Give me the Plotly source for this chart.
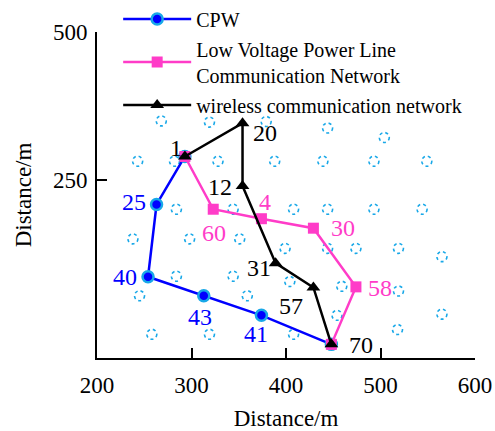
import plotly.graph_objects as go

# ---- data (metres) ----
cpw_nodes = ["1", "25", "40", "43", "41", "70"]
cpw_x = [293, 263, 254, 313, 374, 448]
cpw_y = [290, 209, 87, 55, 22, -27]

plc_nodes = ["1", "60", "4", "30", "58", "70"]
plc_x = [293, 323, 374, 429, 474, 448]
plc_y = [290, 201, 185, 169, 70, -27]

wl_nodes = ["1", "20", "12", "31", "57", "70"]
wl_x = [293, 354, 354, 389, 429, 448]
wl_y = [290, 346, 240, 110, 69, -27]

# other (unselected) nodes
other_x = [268, 319, 379, 444, 504,
           243, 282, 328, 388, 439, 493, 549,
           284, 344, 408, 444, 493, 544,
           238, 298, 351,
           399, 444, 474, 519, 565,
           284, 344, 404, 459, 519,
           245, 359, 454, 565,
           258, 319, 408, 518]
other_y = [350, 348, 349, 338, 322,
           282, 282, 282, 282, 282, 282, 282,
           201, 201, 201, 201, 201, 201,
           151, 151, 151,
           135, 135, 135, 135, 121,
           88, 88, 79, 71, 63,
           55, 55, 22, 24,
           -10, -10, -10, -2]

x_ticks = [200, 300, 400, 500, 600]
y_ticks = [250, 500]

BLUE = "#0000FF"
CYAN = "#18A8E8"
PINK = "#FF3CC8"
BLACK = "#000000"
FONT = "Liberation Serif"

fig = go.Figure()

fig.add_trace(go.Scatter(
    x=cpw_x, y=cpw_y, mode="lines+markers", name="CPW",
    line=dict(color=BLUE, width=2.5),
    marker=dict(symbol="circle", size=11, color=BLUE, line=dict(color=CYAN, width=2.5)),
    legendgroup="a"))
fig.add_trace(go.Scatter(
    x=plc_x, y=plc_y, mode="lines+markers",
    name="Low Voltage Power Line<br>Communication Network",
    line=dict(color=PINK, width=2.5),
    marker=dict(symbol="square", size=11, color=PINK),
    legendgroup="b"))
fig.add_trace(go.Scatter(
    x=wl_x, y=wl_y, mode="lines+markers", name="wireless communication network",
    line=dict(color=BLACK, width=2.5),
    marker=dict(symbol="triangle-up", size=12, color=BLACK),
    legendgroup="c"))

# dashed circles for other nodes
shapes = []
for xv, yv in zip(other_x, other_y):
    shapes.append(dict(
        type="circle", xref="x", yref="y",
        xsizemode="pixel", ysizemode="pixel",
        xanchor=xv, yanchor=yv, x0=-5, x1=5, y0=-5, y1=5,
        line=dict(color=CYAN, width=1.6, dash="dot"),
        layer="below"))

# node labels (pixel offsets)
label_specs = [
    (cpw_nodes, cpw_x, cpw_y, BLUE, {"25": (-23, 2), "40": (-23, 0), "43": (-4, -21), "41": (-5, -19)}),
    (plc_nodes, plc_x, plc_y, PINK, {"60": (1, -24), "4": (4, 17), "30": (30, 0), "58": (24, -1)}),
    (wl_nodes, wl_x, wl_y, BLACK, {"1": (-9, 8), "20": (22, -10), "12": (-23, -1),
                                   "31": (-17, -5), "57": (-22, -19), "70": (30, -1)}),
]
annotations = []
for names, xs, ys, col, offs in label_specs:
    for n, xv, yv in zip(names, xs, ys):
        if n in offs:
            dx, dy = offs[n]
            annotations.append(dict(
                x=xv, y=yv, xref="x", yref="y", text=n, showarrow=False,
                xshift=dx, yshift=dy, font=dict(family=FONT, size=24, color=col)))

fig.update_layout(
    width=495, height=431,
    margin=dict(l=97, r=20, t=32, b=73, autoexpand=False),
    paper_bgcolor="white", plot_bgcolor="white",
    font=dict(family=FONT, size=22, color="black"),
    shapes=shapes, annotations=annotations,
    showlegend=True,
    legend=dict(x=0.056, y=1.1, xanchor="left", yanchor="top",
                bgcolor="rgba(0,0,0,0)", font=dict(family=FONT, size=20),
                tracegroupgap=1, itemwidth=68),
    xaxis=dict(range=[200, 600], tickvals=x_ticks, showgrid=False, zeroline=False,
               showline=True, linecolor="black", linewidth=2,
               ticks="inside", ticklen=10, tickwidth=2, tickcolor="black",
               tickfont=dict(family=FONT, size=23), ticklabelstandoff=5,
               title=dict(text="Distance/m", font=dict(family=FONT, size=23), standoff=20)),
    yaxis=dict(range=[-50, 500], tickvals=y_ticks, showgrid=False, zeroline=False,
               showline=True, linecolor="black", linewidth=2,
               ticks="inside", ticklen=10, tickwidth=2, tickcolor="black",
               tickfont=dict(family=FONT, size=23), ticklabelstandoff=3,
               title=dict(text="Distance/m", font=dict(family=FONT, size=23), standoff=15)),
)

fig.write_html("out.html", config={"displayModeBar": False},
               post_script="document.body.style.margin='0';")
